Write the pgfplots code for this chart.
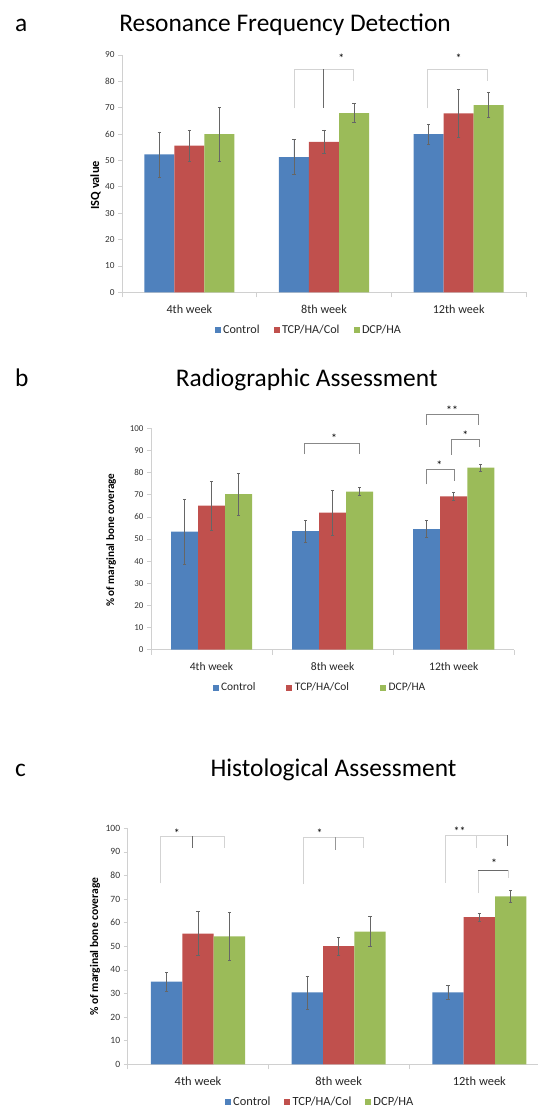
\documentclass[border=0pt]{standalone}
\usepackage{fontspec}
\setmainfont{Carlito}
\usepackage{pgfplots}
\pgfplotsset{compat=1.18}
\definecolor{cBlue}{HTML}{4F81BD}
\definecolor{cRed}{HTML}{C0504D}
\definecolor{cGreen}{HTML}{9BBB59}
\definecolor{axgray}{HTML}{D0D0D0}
\definecolor{brlight}{HTML}{D3D3D3}
\definecolor{brdark}{HTML}{6A6A6A}
\tikzset{sigstar/.style={font=\fontsize{12}{12}\selectfont, inner sep=0pt}}
\pgfplotsset{
  eb/.style={
    /pgfplots/error bars/y dir=both,
    /pgfplots/error bars/y explicit,
    /pgfplots/error bars/error bar style={draw=black!60, line width=0.6bp},
    /pgfplots/error bars/error mark options={rotate=90, mark size=1.6bp, draw=black!60, line width=0.6bp}},
  lg/.style={legend image code/.code={\fill[##1] (0bp,-3bp) rectangle (6bp,3bp);}},
  panel/.style={
    scale only axis, ybar, bar width=0.223,
    xmin=-0.5, xmax=2.5, ymin=0, clip=false,
    axis x line*=bottom, axis y line*=left,
    axis line style={draw=axgray, line width=0.7bp},
    xtick={0,1,2}, xticklabels={4th week,8th week,12th week},
    major x tick style={draw=none},
    minor xtick={-0.5,0.5,1.5,2.5},
    minor x tick style={draw=axgray, line width=0.7bp},
    ytick style={draw=axgray, line width=0.7bp},
    major tick length=4bp, minor tick length=5bp,
    tick align=outside,
    /pgf/number format/assume math mode=true,
    yticklabel style={font=\fontsize{9.3}{10}\selectfont, text=black!80},
    xticklabel style={font=\fontsize{12.2}{14}\selectfont, text=black!85, yshift=-5bp},
    legend style={draw=none, fill=none, legend columns=-1, anchor=center,
      font=\fontsize{12.2}{14}\selectfont, text=black!85,
      nodes={inner sep=1bp},
      /tikz/every odd column/.append style={column sep=1.5bp},
      /tikz/every even column/.append style={column sep=13bp}},
  },
}
\begin{document}
\begin{tikzpicture}
\useasboundingbox (0,0) rectangle (539bp,-1108bp);
% ---------- titles
\node[anchor=base west, font=\fontsize{25.5}{30}\selectfont, inner sep=0] at (15bp,-31.7bp) {a};
\node[anchor=base, font=\fontsize{25.5}{30}\selectfont, inner sep=0] at (285bp,-31.7bp) {Resonance Frequency Detection};
\node[anchor=base west, font=\fontsize{25.5}{30}\selectfont, inner sep=0] at (15bp,-386bp) {b};
\node[anchor=base, font=\fontsize{25.5}{30}\selectfont, inner sep=0] at (306.7bp,-386bp) {Radiographic Assessment};
\node[anchor=base west, font=\fontsize{25.5}{30}\selectfont, inner sep=0] at (15bp,-776.7bp) {c};
\node[anchor=base, font=\fontsize{25.5}{30}\selectfont, inner sep=0] at (333.5bp,-776.7bp) {Histological Assessment};

% ---------- panel a
\begin{axis}[panel, at={(122bp,-292.3bp)}, anchor=south west,
  width=404bp, height=237.3bp, ymax=90, ytick={0,10,...,90},
  ylabel={ISQ value},
  ylabel style={at={(axis description cs:-0.0656,0.451)}, anchor=center,
    font=\bfseries\fontsize{12.5}{14}\selectfont},
  legend style={at={(0.461,-0.160)}}]
\addplot[fill=cBlue, draw=none, bar shift=-0.223, eb, lg] coordinates
  {(0,52.3) +- (0,8.5) (1,51.3) +- (0,6.6) (2,60.0) +- (0,3.7)};
\addplot[fill=cRed, draw=none, bar shift=0, eb, lg] coordinates
  {(0,55.6) +- (0,5.8) (1,57.1) +- (0,4.5) (2,67.9) +- (0,9.2)};
\addplot[fill=cGreen, draw=none, bar shift=0.223, eb, lg] coordinates
  {(0,60.0) +- (0,10.2) (1,68.0) +- (0,3.5) (2,71.0) +- (0,4.8)};
\legend{Control,TCP/HA/Col,DCP/HA}
\draw[brlight, line width=0.8bp] (axis cs:0.777,69.8) -- (axis cs:0.777,84.6) -- (axis cs:1.215,84.6) -- (axis cs:1.215,80.3);
\draw[brdark, line width=0.8bp] (axis cs:0.992,84.6) -- (axis cs:0.992,69.8);
\node[sigstar] at (axis cs:1.128,88.6) {*};
\draw[brlight, line width=0.8bp] (axis cs:1.769,69.8) -- (axis cs:1.769,84.6) -- (axis cs:2.217,84.6) -- (axis cs:2.217,80.3);
\node[sigstar] at (axis cs:2.0,88.6) {*};
\end{axis}

% ---------- panel b
\begin{axis}[panel, at={(151bp,-649.7bp)}, anchor=south west,
  width=363.3bp, height=221.4bp, ymax=100, ytick={0,10,...,100},
  yticklabel style={font=\fontsize{9}{10}\selectfont},
  xticklabel style={font=\fontsize{11.6}{13}\selectfont},
  ylabel={\% of marginal bone coverage},
  ylabel style={at={(axis description cs:-0.110,0.495)}, anchor=center,
    font=\bfseries\fontsize{11.2}{13}\selectfont},
  legend style={at={(0.4636,-0.1716)}, font=\fontsize{11.5}{13}\selectfont,
    /tikz/every even column/.append style={column sep=30bp}}]
\addplot[fill=cBlue, draw=none, bar shift=-0.223, eb, lg] coordinates
  {(0,53.3) +- (0,14.8) (1,53.6) +- (0,4.9) (2,54.5) +- (0,3.8)};
\addplot[fill=cRed, draw=none, bar shift=0, eb, lg] coordinates
  {(0,65.1) +- (0,11.0) (1,61.9) +- (0,10.1) (2,69.3) +- (0,2.0)};
\addplot[fill=cGreen, draw=none, bar shift=0.223, eb, lg] coordinates
  {(0,70.3) +- (0,9.5) (1,71.4) +- (0,1.8) (2,82.2) +- (0,1.7)};
\legend{Control,TCP/HA/Col,DCP/HA}
\draw[brdark!80, line width=0.8bp] (axis cs:0.769,88.3) -- (axis cs:0.769,93.2) -- (axis cs:1.223,93.2) -- (axis cs:1.223,88.3);
\node[sigstar] at (axis cs:1.011,95.6) {*};
\draw[brdark!80, line width=0.8bp] (axis cs:1.774,74.7) -- (axis cs:1.774,81.5) -- (axis cs:2.003,81.5) -- (axis cs:2.003,76.4);
\node[sigstar] at (axis cs:1.882,83.4) {*};
\draw[brdark!80, line width=0.8bp] (axis cs:1.983,88) -- (axis cs:1.983,95) -- (axis cs:2.215,95) -- (axis cs:2.215,91.4);
\node[sigstar] at (axis cs:2.096,96.9) {*};
\draw[brdark!80, line width=0.8bp] (axis cs:1.774,101.5) -- (axis cs:1.774,106.3) -- (axis cs:2.201,106.3) -- (axis cs:2.201,101.5);
\node[sigstar] at (axis cs:1.986,108.2) {**};
\end{axis}

% ---------- panel c
\begin{axis}[panel, at={(127.7bp,-1064.3bp)}, anchor=south west,
  width=410.3bp, height=236bp, xmax=2.417, ymax=100, ytick={0,10,...,100},
  yticklabel style={font=\fontsize{9.6}{10}\selectfont},
  xticklabel style={font=\fontsize{12.5}{14}\selectfont},
  ylabel={\% of marginal bone coverage},
  ylabel style={at={(axis description cs:-0.0797,0.498)}, anchor=center,
    font=\bfseries\fontsize{11.6}{13}\selectfont},
  legend style={at={(0.4675,-0.1585)}, font=\fontsize{12.5}{14}\selectfont,
    /tikz/every even column/.append style={column sep=12.5bp}}]
\addplot[fill=cBlue, draw=none, bar shift=-0.223, eb, lg] coordinates
  {(0,35.0) +- (0,3.9) (1,30.5) +- (0,7.0) (2,30.5) +- (0,3.0)};
\addplot[fill=cRed, draw=none, bar shift=0, eb, lg] coordinates
  {(0,55.4) +- (0,9.4) (1,50.1) +- (0,3.7) (2,62.4) +- (0,1.6)};
\addplot[fill=cGreen, draw=none, bar shift=0.223, eb, lg] coordinates
  {(0,54.2) +- (0,10.2) (1,56.2) +- (0,6.4) (2,71.2) +- (0,2.4)};
\legend{Control,TCP/HA/Col,DCP/HA}
\draw[brlight, line width=0.8bp] (axis cs:-0.265,76.7) -- (axis cs:-0.265,96.6) -- (axis cs:0.185,96.6) -- (axis cs:0.185,91.8);
\draw[brdark, line width=0.8bp] (axis cs:-0.04,96.6) -- (axis cs:-0.04,91.5);
\node[sigstar] at (axis cs:-0.151,98.1) {*};
\draw[brlight, line width=0.8bp] (axis cs:0.746,76.3) -- (axis cs:0.746,96.3) -- (axis cs:1.176,96.3) -- (axis cs:1.176,91.5);
\draw[brdark!70, line width=0.8bp] (axis cs:0.974,96.3) -- (axis cs:0.974,90.8);
\node[sigstar] at (axis cs:0.865,98.1) {*};
\draw[brlight, line width=0.8bp] (axis cs:1.756,77) -- (axis cs:1.756,97) -- (axis cs:2.199,97);
\draw[brdark, line width=0.8bp] (axis cs:2.199,97) -- (axis cs:2.199,92.5);
\draw[brlight, line width=0.8bp] (axis cs:1.981,97) -- (axis cs:1.981,91.5);
\node[sigstar] at (axis cs:1.860,98.7) {**};
\draw[brlight, line width=0.8bp] (axis cs:1.990,72.5) -- (axis cs:1.990,82.2);
\draw[brdark, line width=0.8bp] (axis cs:1.990,82.2) -- (axis cs:2.203,82.2);
\draw[brlight, line width=0.8bp] (axis cs:2.203,82.2) -- (axis cs:2.203,78.8);
\node[sigstar] at (axis cs:2.104,85.0) {*};
\end{axis}
\end{tikzpicture}
\end{document}
